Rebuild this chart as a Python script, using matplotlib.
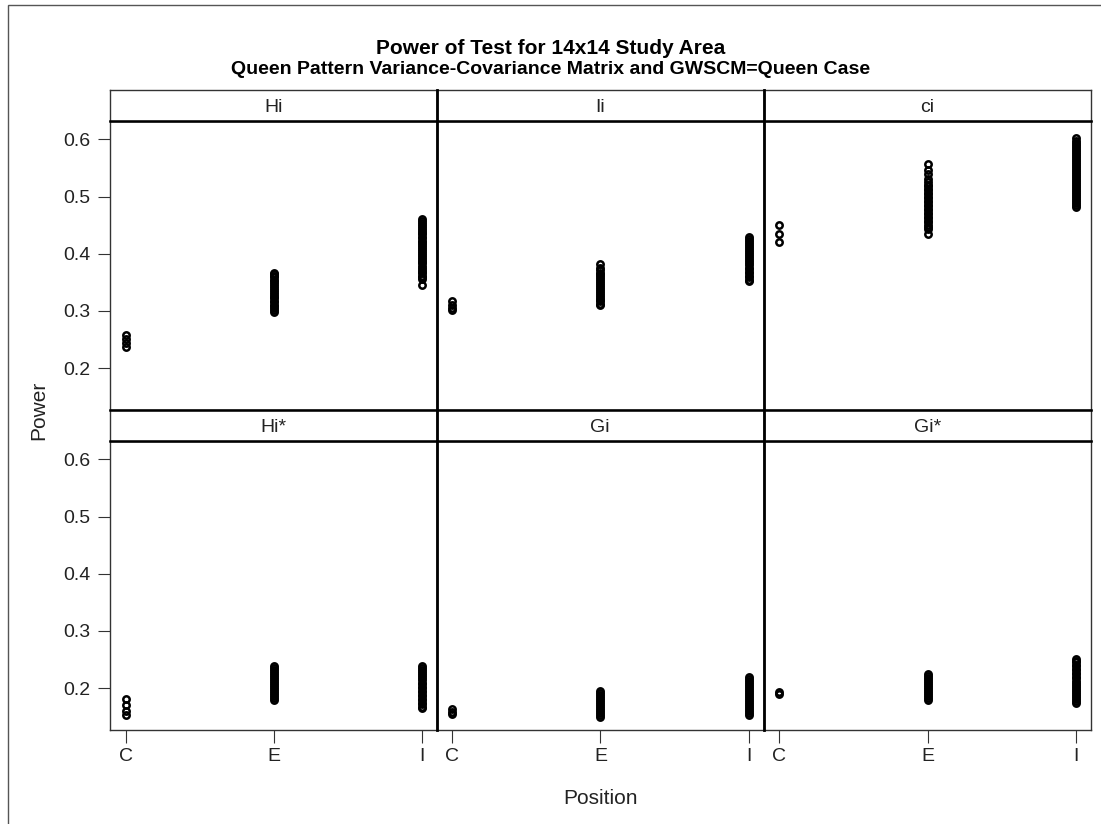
import matplotlib
matplotlib.use("Agg")
import matplotlib.pyplot as plt
from matplotlib.lines import Line2D
from matplotlib.patches import Rectangle

plt.rcParams['font.family'] = ['Liberation Sans', 'DejaVu Sans']

W, H = 1101, 824

positions = ["C", "E", "I"]
panel_names = ["Hi", "Ii", "ci", "Hi*", "Gi", "Gi*"]

# Power values per statistic, one list per position (C, E, I)
hi_C = [0.237, 0.244, 0.251, 0.258]
hi_E = [0.298, 0.301, 0.305, 0.308, 0.311, 0.315, 0.318, 0.322, 0.325, 0.328,
        0.332, 0.335, 0.338, 0.342, 0.345, 0.349, 0.352, 0.355, 0.359, 0.362,
        0.365, 0.367]
hi_I = [0.346, 0.356, 0.359, 0.362, 0.366, 0.369, 0.372, 0.376, 0.379, 0.383,
        0.386, 0.389, 0.393, 0.396, 0.400, 0.403, 0.406, 0.410, 0.413, 0.417,
        0.420, 0.423, 0.427, 0.430, 0.434, 0.437, 0.440, 0.444, 0.447, 0.451,
        0.454, 0.457, 0.461]

ii_C = [0.301, 0.306, 0.311, 0.317]
ii_E = [0.310, 0.313, 0.317, 0.320, 0.323, 0.327, 0.330, 0.334, 0.337, 0.340,
        0.344, 0.347, 0.350, 0.354, 0.357, 0.361, 0.364, 0.367, 0.371, 0.375,
        0.382]
ii_I = [0.352, 0.355, 0.359, 0.362, 0.366, 0.369, 0.373, 0.376, 0.380, 0.383,
        0.387, 0.390, 0.394, 0.397, 0.401, 0.404, 0.408, 0.411, 0.415, 0.418,
        0.422, 0.425, 0.429]

ci_C = [0.421, 0.435, 0.451]
ci_E = [0.434, 0.444, 0.447, 0.451, 0.455, 0.458, 0.462, 0.465, 0.469, 0.472,
        0.476, 0.479, 0.483, 0.486, 0.490, 0.493, 0.497, 0.500, 0.504, 0.507,
        0.511, 0.514, 0.518, 0.521, 0.525, 0.530, 0.540, 0.547, 0.557]
ci_I = [0.482, 0.485, 0.489, 0.492, 0.496, 0.499, 0.503, 0.506, 0.510, 0.513,
        0.517, 0.520, 0.524, 0.527, 0.531, 0.534, 0.538, 0.541, 0.545, 0.548,
        0.552, 0.555, 0.559, 0.562, 0.566, 0.569, 0.573, 0.576, 0.580, 0.583,
        0.587, 0.590, 0.594, 0.597, 0.602]

his_C = [0.153, 0.161, 0.170, 0.182]
his_E = [0.180, 0.183, 0.187, 0.190, 0.194, 0.197, 0.201, 0.204, 0.208, 0.211,
         0.215, 0.218, 0.222, 0.225, 0.229, 0.232, 0.236, 0.239]
his_I = [0.165, 0.168, 0.172, 0.175, 0.179, 0.182, 0.186, 0.189, 0.193, 0.196,
         0.200, 0.203, 0.207, 0.210, 0.214, 0.217, 0.221, 0.224, 0.228, 0.231,
         0.235, 0.239]

gi_C = [0.155, 0.158, 0.163]
gi_E = [0.150, 0.153, 0.157, 0.160, 0.164, 0.167, 0.171, 0.174, 0.178, 0.181,
        0.185, 0.188, 0.192, 0.196]
gi_I = [0.153, 0.156, 0.160, 0.163, 0.167, 0.170, 0.174, 0.177, 0.181, 0.184,
        0.188, 0.191, 0.195, 0.198, 0.202, 0.205, 0.209, 0.212, 0.216, 0.220]

gis_C = [0.190, 0.194]
gis_E = [0.180, 0.183, 0.187, 0.190, 0.194, 0.197, 0.201, 0.204, 0.208, 0.211,
         0.215, 0.218, 0.221, 0.224]
gis_I = [0.175, 0.178, 0.182, 0.185, 0.189, 0.192, 0.196, 0.199, 0.203, 0.206,
         0.210, 0.213, 0.217, 0.220, 0.224, 0.227, 0.231, 0.234, 0.238, 0.241,
         0.245, 0.248, 0.251]

panel_data = [
    [hi_C, hi_E, hi_I],
    [ii_C, ii_E, ii_I],
    [ci_C, ci_E, ci_I],
    [his_C, his_E, his_I],
    [gi_C, gi_E, gi_I],
    [gis_C, gis_E, gis_I],
]

y_ticks = [0.2, 0.3, 0.4, 0.5, 0.6]


def fx(px):
    return px / W


def fy(py):
    return 1 - py / H


col_edges = [110, 436.5, 763.5, 1091]
rows = [(90, 121, 410), (410, 441, 730)]  # header top, panel top, panel bottom

fig = plt.figure(figsize=(W / 100, H / 100), dpi=100)

# outer frame around the whole graph
fig.add_artist(Rectangle((fx(8), fy(840)), fx(1110) - fx(8), fy(5) - fy(840),
                         transform=fig.transFigure, fill=False,
                         edgecolor="#555555", lw=1.0, clip_on=False))

tick_fs = 14
for k, name in enumerate(panel_names):
    r, c = divmod(k, 3)
    htop, ptop, pbot = rows[r]
    x0, x1 = col_edges[c], col_edges[c + 1]

    ax = fig.add_axes([fx(x0), fy(pbot), fx(x1) - fx(x0), fy(ptop) - fy(pbot)])
    for i, vals in enumerate(panel_data[k]):
        ax.plot([i] * len(vals), vals, linestyle="none", marker="o",
                markersize=4.6, markerfacecolor="none", markeredgecolor="black",
                markeredgewidth=1.8)
    ax.set_xlim(-0.106, 2.1)
    ax.set_ylim(0.127, 0.632)
    for sp in ax.spines.values():
        sp.set_linewidth(1.0)
        sp.set_color("#333333")
    ax.tick_params(length=9, width=0.8, color="#333333",
                   labelsize=tick_fs, labelcolor="#222222")
    ax.set_xticks(range(len(positions)))
    ax.set_yticks(y_ticks)
    if r == 1:
        ax.set_xticklabels(positions)
        ax.tick_params(axis="x", pad=4)
    else:
        ax.tick_params(axis="x", bottom=False, labelbottom=False)
    if c == 0:
        ax.set_yticklabels([f"{v:.1f}" for v in y_ticks])
        ax.tick_params(axis="y", pad=5)
    else:
        ax.tick_params(axis="y", left=False, labelleft=False)

    # header strip with the statistic name
    hx = fig.add_axes([fx(x0), fy(ptop), fx(x1) - fx(x0), fy(htop) - fy(ptop)])
    hx.set_xticks([])
    hx.set_yticks([])
    for sp in hx.spines.values():
        sp.set_linewidth(1.0)
        sp.set_color("#333333")
    hx.text(0.5, 0.45, name, ha="center", va="center", fontsize=tick_fs,
            color="#222222", transform=hx.transAxes)

# heavier rules between strips and panels
for py in [121, 410, 441]:
    fig.add_artist(Line2D([fx(110), fx(1091)], [fy(py), fy(py)], color="black",
                          lw=1.8, transform=fig.transFigure))
for px in col_edges[1:3]:
    fig.add_artist(Line2D([fx(px), fx(px)], [fy(90), fy(730)], color="black",
                          lw=2.0, transform=fig.transFigure))

fig.text(fx(551), fy(48), "Power of Test for 14x14 Study Area", ha="center",
         va="center", fontsize=15, fontweight="bold")
fig.text(fx(551), fy(70),
         "Queen Pattern Variance-Covariance Matrix and GWSCM=Queen Case",
         ha="center", va="center", fontsize=14, fontweight="bold")
fig.text(fx(39), fy(410), "Power", rotation=90, ha="center", va="center",
         fontsize=15, color="#222222")
fig.text(fx(600), fy(798), "Position", ha="center", va="center",
         fontsize=15, color="#222222")

fig.savefig("out.png", dpi=100)
